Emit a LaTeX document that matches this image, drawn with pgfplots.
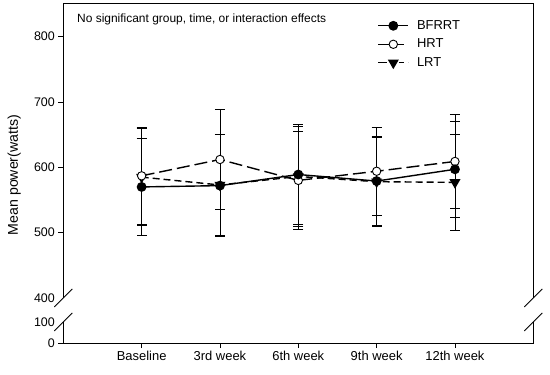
\documentclass[border=0pt]{standalone}
\usepackage{fontspec}
\setmainfont{Liberation Sans}
\usepackage{pgfplots}
\pgfplotsset{compat=1.18}
\usepackage{pgfplotstable}

\pgfplotstableread{
x y e
1 570 74
2 572 78
3 589 76
4 579 68
5 597 73
}\bfrrt
\pgfplotstableread{
x y e
1 587 74
2 612 77
3 580 75
4 594 67
5 609 72
}\hrt
\pgfplotstableread{
x y e
1 585 74
2 573 77
3 586 77
4 578 68
5 577 73
}\lrt

\begin{document}
\begin{tikzpicture}
\useasboundingbox (-63.3bp,-32bp) rectangle (486.7bp,343bp);
\pgfplotsset{
 common/.style={
  scale only axis, width=470bp, xmin=0, xmax=6,
  axis line style={draw=none},
  tick align=outside, major tick length=5bp,
  major tick style={black, line width=0.9bp},
  ytick pos=left, xtick pos=bottom,
  ticklabel style={font=\fontsize{12.5}{15}\selectfont},
  /pgf/number format/assume math mode=true,
  extra y tick style={major tick style={draw=none}},
 },
 errstyle/.style={
  error bars/.cd, y dir=both, y explicit,
  error bar style={solid, black, line width=0.8bp},
  error mark options={solid, black, rotate=90, mark size=5bp, line width=0.8bp},
 },
}
\begin{axis}[common, at={(0,0)}, anchor=south west, height=21bp,
  ymin=0, ymax=100, ytick={0}, extra y ticks={100},
  xtick={1,2,3,4,5},
  xticklabels={Baseline,3rd week,6th week,9th week,12th week},
  xticklabel style={font=\fontsize{13}{15}\selectfont}]
\end{axis}
\begin{axis}[common, at={(0,45bp)}, anchor=south west, height=294bp,
  ymin=400, ymax=850, ytick={500,600,700,800}, extra y ticks={400},
  xtick=\empty, reverse legend,
  legend style={draw=none, fill=none, at={(axis description cs:0.662,0.958)}, anchor=north west,
    font=\fontsize{13}{15}\selectfont, row sep=4bp, column sep=7bp,
    nodes={inner sep=1bp, text height=9.5bp, text depth=3bp}},
  legend cell align=left,
  legend image code/.code={\draw[mark repeat=2,mark phase=2,#1] plot coordinates {(0bp,0bp) (15bp,0bp) (30bp,0bp)};}]
\addplot[black, line width=1.4bp, dash pattern=on 7bp off 4bp, mark=triangle*, mark size=5bp,
  mark options={solid, fill=black, rotate=180},
  legend image post style={dash pattern=on 9bp off 3bp on 5bp off 4bp on 5bp off 4bp}, errstyle] table[x=x, y=y, y error=e] {\lrt};
\addlegendentry{LRT}
\addplot[black, line width=1.4bp, dash pattern=on 13bp off 5bp, mark=*, mark size=4.2bp,
  mark options={solid, fill=white, line width=0.9bp},
  legend image post style={dash pattern=on 11bp off 9bp on 6bp off 10bp}, errstyle] table[x=x, y=y, y error=e] {\hrt};
\addlegendentry{HRT}
\addplot[black, line width=1.4bp, solid, mark=*, mark size=4.2bp,
  mark options={solid, fill=black}, errstyle] table[x=x, y=y, y error=e] {\bfrrt};
\addlegendentry{BFRRT}
\end{axis}
% frame
\draw[line width=1bp] (0,45bp) -- (0,339bp) -- (470bp,339bp) -- (470bp,45bp);
\draw[line width=1bp] (0,21bp) -- (0,0) -- (470bp,0) -- (470bp,21bp);
% break marks
\draw[line width=0.8bp] (-9bp,36bp) -- (9bp,54bp);
\draw[line width=0.8bp] (461bp,36bp) -- (479bp,54bp);
\draw[line width=0.8bp] (-9bp,12bp) -- (9bp,30bp);
\draw[line width=0.8bp] (461bp,12bp) -- (479bp,30bp);
\node[anchor=base west, inner sep=0, font=\fontsize{12}{14}\selectfont] at (13.7bp,320.5bp)
  {No significant group, time, or interaction effects};
\node[anchor=base, rotate=90, inner sep=0, font=\fontsize{14.2}{17}\selectfont] at (-45.3bp,168bp)
  {Mean power(watts)};
\end{tikzpicture}
\end{document}
